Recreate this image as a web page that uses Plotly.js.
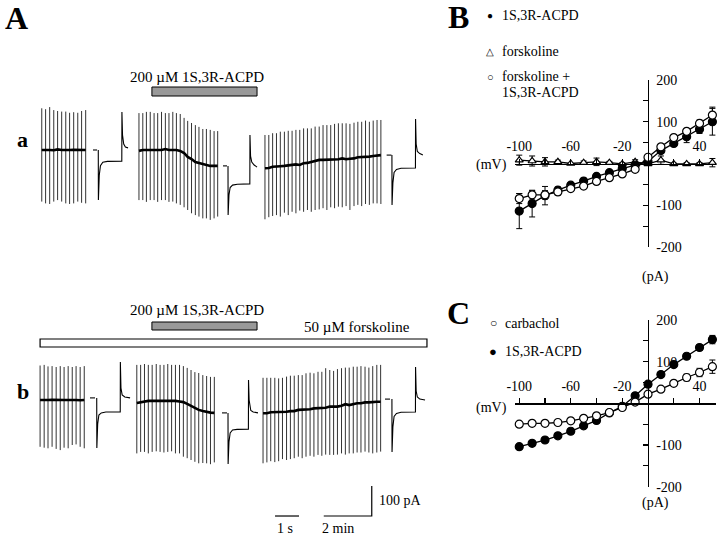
<!DOCTYPE html>
<html>
<head>
<meta charset="utf-8">
<script src="https://cdn.plot.ly/plotly-3.0.1.min.js"></script>
<style>
  html, body { margin: 0; padding: 0; background: #fff; }
  #myDiv { width: 720px; height: 538px; }
</style>
</head>
<body>
<div id="myDiv"></div>
<script>
// ---------- Panel A: chart record (x in min; a 1 s fast sweep spans the same width as 1 min) ----------
// trace a
const aT1 = [1.74, 1.90, 2.07, 2.24, 2.40, 2.57, 2.74, 2.90, 3.07, 3.24, 3.40, 3.57];
const aTop1 = [139, 136, 143, 133, 130, 128, 128, 124, 126, 124, 130, 133];
const aBot1 = [-172, -178, -180, -172, -167, -172, -178, -180, -178, -172, -176, -178];
const aBase1 = [0, 1, 0, -1, 2, 0, -1, 0, 1, 0, -1, 0];

const aT2 = [5.79, 5.95, 6.10, 6.26, 6.42, 6.57, 6.73, 6.89, 7.04, 7.20, 7.35, 7.51, 7.67, 7.82, 7.98, 8.14, 8.29, 8.45, 8.60, 8.76, 8.92, 9.07];
const aTop2 = [123, 123, 127, 127, 123, 123, 127, 123, 123, 127, 123, 120, 107, 97, 90, 83, 77, 70, 70, 67, 63, 63];
const aBot2 = [-167, -167, -173, -167, -167, -173, -167, -167, -173, -172, -178, -183, -191, -200, -211, -217, -222, -228, -228, -233, -228, -222];
const aBase2 = [-3, 0, 0, 0, 0, 0, 0, 3, 0, 0, 0, -3, -10, -23, -30, -40, -43, -47, -50, -53, -53, -53];

const aT3 = [11.04, 11.20, 11.36, 11.52, 11.68, 11.85, 12.01, 12.17, 12.33, 12.49, 12.65, 12.81, 12.97, 13.13, 13.30, 13.46,
  13.62, 13.78, 13.94, 14.10, 14.26, 14.42, 14.58, 14.75, 14.91, 15.07, 15.23, 15.39, 15.55, 15.71, 15.87];
const aTop3 = [50, 50, 56, 56, 61, 61, 64, 64, 67, 67, 72, 72, 72, 78, 78, 83, 83, 83, 87, 89, 89, 89, 87, 91, 94, 94, 98, 94, 98, 100, 100];
const aBot3 = [-231, -224, -220, -217, -222, -209, -217, -206, -211, -202, -206, -200, -206, -200, -198, -194, -200, -191, -194, -189,
  -191, -187, -200, -187, -183, -187, -180, -183, -178, -178, -180];
const aBase3 = [-61, -60, -56, -56, -54, -53, -52, -50, -48, -50, -44, -43, -39, -37, -33, -33, -33, -33, -31, -31,
  -28, -31, -29, -28, -24, -24, -22, -22, -20, -19, -17];

// trace b
const bT1 = [1.67, 1.84, 2.00, 2.17, 2.34, 2.51, 2.67, 2.84, 3.01, 3.17, 3.34, 3.51];
const bTop1 = [115, 117, 112, 113, 110, 113, 110, 113, 110, 113, 110, 113];
const bBot1 = [-156, -159, -161, -156, -163, -167, -159, -161, -150, -148, -156, -161];
const bBase1 = [0, -1, 0, 1, 0, -1, 0, 0, 1, 0, -1, 0];

const bT2 = [5.70, 5.86, 6.02, 6.18, 6.34, 6.51, 6.67, 6.83, 6.99, 7.15, 7.31, 7.48, 7.64, 7.80, 7.96, 8.12, 8.28, 8.45, 8.61, 8.77, 8.93];
const bTop2 = [117, 117, 120, 117, 117, 120, 117, 117, 120, 117, 117, 117, 113, 107, 100, 93, 90, 83, 80, 77, 77];
const bBot2 = [-178, -173, -173, -178, -173, -171, -173, -175, -173, -171, -178, -178, -189, -194, -200, -206, -211, -210, -211, -214, -208];
const bBase2 = [-10, -7, -5, -3, -3, -3, -3, -2, -3, -3, -3, -5, -7, -13, -20, -27, -33, -37, -40, -42, -43];

const bT3 = [10.96, 11.12, 11.28, 11.45, 11.61, 11.77, 11.94, 12.10, 12.26, 12.43, 12.59, 12.75, 12.92, 13.08, 13.25, 13.41,
  13.57, 13.74, 13.90, 14.06, 14.23, 14.39, 14.55, 14.72, 14.88, 15.04, 15.21, 15.37, 15.53, 15.70, 15.86];
const bTop3 = [74, 74, 74, 74, 72, 74, 78, 81, 81, 83, 83, 89, 91, 89, 94, 94, 106, 100, 97, 103, 106, 108, 108, 111, 111, 113, 111, 108, 113, 117, 117];
const bBot3 = [-211, -208, -204, -207, -204, -197, -200, -197, -194, -189, -194, -189, -186, -189, -183, -186, -182, -183, -183, -182,
  -178, -182, -178, -178, -175, -175, -172, -175, -178, -175, -172];
const bBase3 = [-44, -44, -41, -41, -41, -39, -39, -37, -37, -33, -33, -31, -31, -28, -28, -26, -26, -22, -22, -22,
  -19, -14, -17, -14, -11, -11, -8, -8, -6, -6, -6];

// fast voltage-step sweeps (t in s, current in pA), with their start on the record
const sweepStartA = [3.875, 9.29, 16.11];
const sweepStartB = [3.75, 9.25, 16.04];
const sweepTA1 = [0, 0.17, null, 0.22, 0.225, 0.26, 0.31, 0.41, 0.6, 1.2, 1.205, 1.23, 1.28, 1.35, 1.46];
const sweepIA1 = [0, 0, null, 0, -167, -85, -52, -41, -38, -37, 127, 50, 20, 10, 7];
const sweepTA2 = [0, 0.17, null, 0.21, 0.215, 0.25, 0.30, 0.40, 0.6, 1.12, 1.125, 1.15, 1.2, 1.3, 1.42];
const sweepIA2 = [-53, -53, null, -53, -217, -150, -125, -117, -114, -113, 50, -20, -40, -50, -57];
const sweepTA3 = [0, 0.2, null, 0.22, 0.225, 0.26, 0.31, 0.41, 0.6, 1.2, 1.205, 1.23, 1.28, 1.38, 1.51];
const sweepIA3 = [-17, -17, null, -17, -183, -110, -75, -65, -61, -60, 103, 20, -5, -12, -17];
const sweepTB1 = [0, 0.21, null, 0.28, 0.285, 0.32, 0.37, 0.47, 0.66, 1.26, 1.265, 1.29, 1.34, 1.45, 1.67];
const sweepIB1 = [7, 7, null, 7, -160, -80, -50, -43, -40, -40, 127, 40, 17, 10, 7];
const sweepTB2 = [0, 0.21, null, 0.25, 0.255, 0.29, 0.34, 0.44, 0.63, 1.1, 1.105, 1.13, 1.2, 1.3, 1.5];
const sweepIB2 = [-43, -43, null, -43, -213, -140, -110, -100, -98, -97, 67, 0, -35, -40, -43];
const sweepTB3 = [0, 0.21, null, 0.29, 0.295, 0.33, 0.38, 0.48, 0.67, 1.27, 1.275, 1.3, 1.35, 1.45, 1.67];
const sweepIB3 = [3, 3, null, 3, -173, -90, -55, -45, -41, -40, 110, 30, 10, 3, 0];

// drug application (min on the record)
const acpdOn = 6.33, acpdOff = 10.71;
const forsOn = 1.67, forsOff = 17.79;

// calibration bars
const barPA = 100, barSec = 1, barMin = 2;

// ---------- Panels B and C: I-V relations ----------
const mV = [-100, -90, -80, -70, -60, -50, -40, -30, -20, -10, 0, 10, 20, 30, 40, 50];

const bAcpd = [-114, -96, -77, -64, -52, -42, -31, -22, -12, -4, 5, 31, 48, 64, 82, 100];
const bAcpdErr = [42, 32, 22, 8, 5, 4, 4, 4, 4, 4, 4, 6, 6, 14, 10, 32];
const bFors = [8, 6, 4, 4, 0, 2, 4, 2, -1, 4, -1, 8, -1, -1, -1, 2];
const bForsErr = [12, 12, 10, 4, 0, 4, 9, 3, 3, 5, 3, 10, 2, 3, 3, 10];
const bBoth = [-84, -75, -75, -68, -60, -54, -43, -34, -25, -14, 15, 40, 62, 77, 96, 116];
const bBothErr = [12, 10, 10, 8, 5, 3, 3, 3, 3, 3, 4, 5, 5, 5, 8, 19];

const cCarb = [-50, -48, -48, -46, -42, -36, -30, -22, -10, 3, 22, 34, 48, 62, 74, 88];
const cCarbErr = [3, 3, 3, 3, 3, 3, 3, 3, 3, 3, 3, 4, 5, 8, 10, 16];
const cAcpd = [-104, -96, -88, -78, -67, -54, -41, -23, -7, 18, 46, 69, 93, 113, 134, 153];
const cAcpdErr = [3, 3, 3, 3, 3, 3, 3, 3, 3, 3, 3, 4, 4, 5, 6, 10];

// ---------- helpers ----------
const W = 720, H = 538;
const px = (x) => x / W;
const py = (y) => 1 - y / H;
const SERIF = 'Liberation Serif, Times New Roman, serif';

function ramps(times, tops, bots, yaxis) {
  const x = [], y = [];
  times.forEach((t, i) => { x.push(t, t, null); y.push(tops[i], bots[i], null); });
  return { x, y, xaxis: 'x', yaxis, mode: 'lines', line: { color: '#333', width: 1 }, showlegend: false, hoverinfo: 'skip' };
}
function baseline(times, base, yaxis) {
  return { x: times, y: base, xaxis: 'x', yaxis, mode: 'lines', line: { color: '#000', width: 2.6 }, showlegend: false, hoverinfo: 'skip' };
}
function sweep(start, t, i, yaxis) {
  return { x: t.map((v) => (v === null ? null : start + v)), y: i, xaxis: 'x', yaxis, mode: 'lines',
    line: { color: '#000', width: 1.1 }, connectgaps: false, showlegend: false, hoverinfo: 'skip' };
}
function iv(y, err, xa, ya, symbol, fill) {
  return {
    x: mV, y, xaxis: xa, yaxis: ya, mode: 'lines+markers', cliponaxis: false,
    line: { color: '#000', width: 1.3 },
    marker: { symbol, size: symbol === 'triangle-up' ? 7 : 8, color: fill, line: { color: '#000', width: 1.2 } },
    error_y: { type: 'data', array: err, visible: true, color: '#000', thickness: 1, width: 3 },
    showlegend: false, hoverinfo: 'skip'
  };
}

const traces = [
  ramps(aT1, aTop1, aBot1, 'y'), ramps(aT2, aTop2, aBot2, 'y'), ramps(aT3, aTop3, aBot3, 'y'),
  baseline(aT1, aBase1, 'y'), baseline(aT2, aBase2, 'y'), baseline(aT3, aBase3, 'y'),
  sweep(sweepStartA[0], sweepTA1, sweepIA1, 'y'), sweep(sweepStartA[1], sweepTA2, sweepIA2, 'y'), sweep(sweepStartA[2], sweepTA3, sweepIA3, 'y'),
  ramps(bT1, bTop1, bBot1, 'y2'), ramps(bT2, bTop2, bBot2, 'y2'), ramps(bT3, bTop3, bBot3, 'y2'),
  baseline(bT1, bBase1, 'y2'), baseline(bT2, bBase2, 'y2'), baseline(bT3, bBase3, 'y2'),
  sweep(sweepStartB[0], sweepTB1, sweepIB1, 'y2'), sweep(sweepStartB[1], sweepTB2, sweepIB2, 'y2'), sweep(sweepStartB[2], sweepTB3, sweepIB3, 'y2'),
  // calibration bars (on trace b's axis): 1 s, 2 min, 100 pA
  {
    x: [11.46, 11.46 + barSec, null, 15.49 - barMin, 15.49, 15.49],
    y: [-386.7, -386.7, null, -386.7, -386.7, -386.7 + barPA],
    xaxis: 'x', yaxis: 'y2', mode: 'lines', line: { color: '#000', width: 1.2 }, showlegend: false, hoverinfo: 'skip'
  },
  iv(bFors, bForsErr, 'x2', 'y3', 'triangle-up', '#fff'),
  iv(bAcpd, bAcpdErr, 'x2', 'y3', 'circle', '#000'),
  iv(bBoth, bBothErr, 'x2', 'y3', 'circle', '#fff'),
  iv(cAcpd, cAcpdErr, 'x3', 'y4', 'circle', '#000'),
  iv(cCarb, cCarbErr, 'x3', 'y4', 'circle', '#fff')
];

const hidden = { visible: false, fixedrange: true };
const ivX = (pos) => ({
  domain: [px(515), px(716)], range: [-103.3, 52.8], anchor: 'free', position: pos, side: 'top',
  showline: true, linecolor: '#000', linewidth: 1.4, showgrid: false, zeroline: false,
  ticks: 'outside', ticklen: 5, tickwidth: 1.2, tickcolor: '#000', ticklabelstandoff: 2,
  tickvals: [-100, -80, -60, -40, -20, 20, 40], ticktext: ['-100', '', '-60', '', '-20', '', '40'],
  tickfont: { family: SERIF, size: 14, color: '#000' }
});
const ivY = (top, bottom) => ({
  domain: [py(bottom), py(top)], range: [-200, 200], anchor: 'free', position: px(648), side: 'right',
  showline: true, linecolor: '#000', linewidth: 1.4, showgrid: false, zeroline: false,
  ticks: 'inside', ticklen: 5, tickwidth: 1.2, tickcolor: '#000', ticklabelstandoff: 4,
  tickvals: [200, 150, 100, 50, -50, -100, -150, -200], ticktext: ['200', '', '100', '', '', '-100', '', '-200'],
  tickfont: { family: SERIF, size: 14, color: '#000' }
});

function txt(text, x, y, size, opts = {}) {
  return Object.assign({ text, x: px(x), y: py(y), xref: 'paper', yref: 'paper', showarrow: false,
    xanchor: 'center', yanchor: 'middle', font: { family: SERIF, size, color: '#000' } }, opts);
}

const annotations = [
  txt('<b>A</b>', 16, 18, 32), txt('<b>B</b>', 459, 17, 32), txt('<b>C</b>', 459, 313, 32),
  txt('<b>a</b>', 22, 140, 22), txt('<b>b</b>', 23, 391, 22),
  txt('200 µM 1S,3R-ACPD', 197, 77, 15), txt('200 µM 1S,3R-ACPD', 197, 310, 15),
  txt('50 µM forskoline', 357, 327, 15),
  txt('1 s', 285, 528, 14), txt('2 min', 338, 528, 14), txt('100 pA', 377, 500, 14, { xanchor: 'left' }),
  // legend B
  txt('●', 490, 15, 10), txt('1S,3R-ACPD', 500, 15, 14, { xanchor: 'left' }),
  txt('△', 490, 52, 10), txt('forskoline', 500, 52, 14, { xanchor: 'left' }),
  txt('○', 490, 77, 11), txt('forskoline +', 500, 77, 14, { xanchor: 'left' }),
  txt('1S,3R-ACPD', 500, 92, 14, { xanchor: 'left' }),
  // legend C
  txt('○', 493, 323, 12), txt('carbachol', 503, 323, 14, { xanchor: 'left' }),
  txt('●', 493, 351, 13), txt('1S,3R-ACPD', 503, 351, 14, { xanchor: 'left' }),
  // axis units
  txt('(mV)', 491, 165, 14), txt('(pA)', 655, 277, 14),
  txt('(mV)', 491, 408, 14), txt('(pA)', 655, 503, 14)
];

const shapes = [
  { type: 'rect', xref: 'x', yref: 'paper', x0: acpdOn, x1: acpdOff, y0: py(96), y1: py(87),
    fillcolor: '#999', line: { color: '#000', width: 1 } },
  { type: 'rect', xref: 'x', yref: 'paper', x0: acpdOn, x1: acpdOff, y0: py(330), y1: py(322),
    fillcolor: '#999', line: { color: '#000', width: 1 } },
  { type: 'rect', xref: 'x', yref: 'paper', x0: forsOn, x1: forsOff, y0: py(347), y1: py(339),
    fillcolor: '#fff', line: { color: '#000', width: 1.2 } }
];

const layout = {
  width: W, height: H,
  margin: { l: 0, r: 0, t: 0, b: 0 },
  paper_bgcolor: '#fff', plot_bgcolor: 'rgba(0,0,0,0)',
  showlegend: false, hovermode: false,
  xaxis: Object.assign({ domain: [0, px(440)], range: [0, 440 / 24], anchor: 'y' }, hidden),
  yaxis: Object.assign({ domain: [py(230), py(95)], range: [-266.7, 183.3], anchor: 'x' }, hidden),
  yaxis2: Object.assign({ domain: [py(520), py(355)], range: [-400, 150], anchor: 'x' }, hidden),
  xaxis2: ivX(py(163.5)),
  yaxis3: ivY(80, 247),
  xaxis3: ivX(py(403.3)),
  yaxis4: ivY(320, 486.7),
  annotations,
  shapes
};

Plotly.newPlot('myDiv', traces, layout, { staticPlot: true, displayModeBar: false });
document.title = 'mGluR current, forskoline and carbachol I-V';
</script>
</body>
</html>
